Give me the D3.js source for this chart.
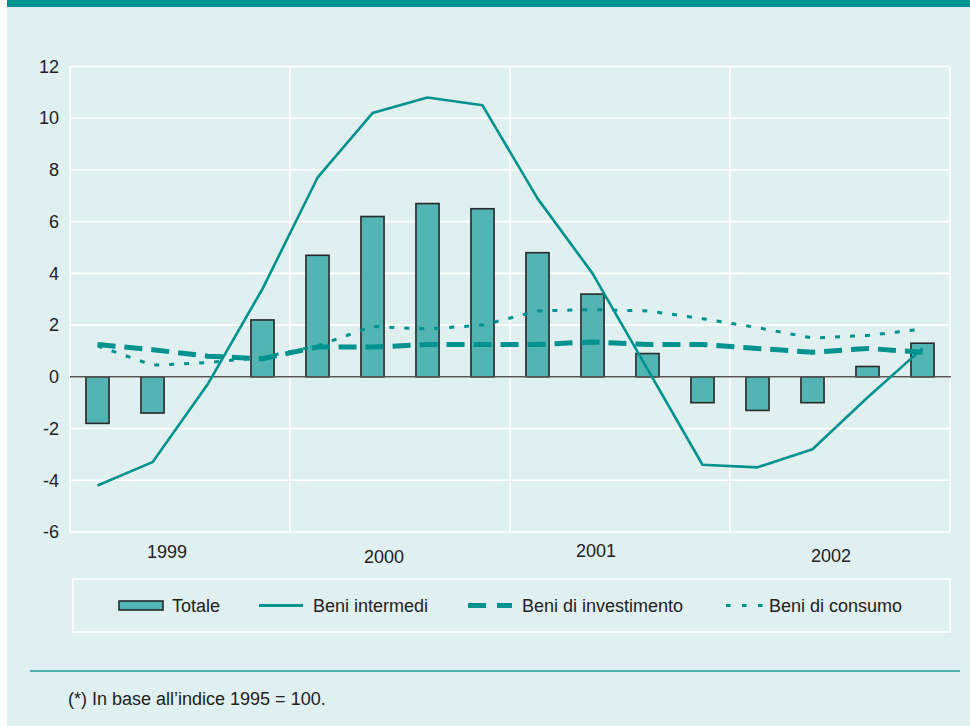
<!DOCTYPE html>
<html>
<head>
<meta charset="utf-8">
<script src="https://cdn.jsdelivr.net/npm/d3@7"></script>
<style>
  html, body { margin: 0; padding: 0; background: #ffffff; }
  svg { display: block; }
  text { font-family: "Liberation Sans", Arial, Helvetica, sans-serif; fill: #222; }
</style>
</head>
<body>
<svg id="chart" width="970" height="726"></svg>
<script>
// Quarterly data, 1999-2002 (percent changes)
const quarters = [
  "1999-I", "1999-II", "1999-III", "1999-IV",
  "2000-I", "2000-II", "2000-III", "2000-IV",
  "2001-I", "2001-II", "2001-III", "2001-IV",
  "2002-I", "2002-II", "2002-III", "2002-IV"
];
const years = ["1999", "2000", "2001", "2002"];
const totale      = [-1.8, -1.4, 0, 2.2, 4.7, 6.2, 6.7, 6.5, 4.8, 3.2, 0.9, -1.0, -1.3, -1.0, 0.4, 1.3];
const intermedi   = [-4.2, -3.3, -0.3, 3.4, 7.7, 10.2, 10.8, 10.5, 6.9, 4.0, 0.3, -3.4, -3.5, -2.8, -0.8, 1.1];
const investimento = [1.25, 1.05, 0.8, 0.7, 1.15, 1.15, 1.25, 1.25, 1.25, 1.35, 1.25, 1.25, 1.1, 0.95, 1.1, 0.95];
const consumo     = [1.2, 0.45, 0.55, 0.75, 1.2, 1.95, 1.85, 2.0, 2.55, 2.6, 2.55, 2.25, 1.9, 1.5, 1.6, 1.85];
const yTicks = [-6, -4, -2, 0, 2, 4, 6, 8, 10, 12];
const legendLabels = ["Totale", "Beni intermedi", "Beni di investimento", "Beni di consumo"];
const footnote = "(*) In base all\u2019indice 1995 = 100.";

const TEAL = "#00928e";
const BAR = "#52b4b3";
const BG = "#e0efef";

const svg = d3.select("#chart");

// panel background and top band
svg.append("rect").attr("x", 7).attr("y", 0).attr("width", 963).attr("height", 726).attr("fill", BG);
svg.append("rect").attr("x", 7).attr("y", 0).attr("width", 963).attr("height", 7).attr("fill", "#009490");

const plot = { left: 70, right: 950, top: 66.5, bottom: 532 };

const x = d3.scaleBand()
  .domain(quarters)
  .range([plot.left, plot.right])
  .paddingInner(0.58)
  .paddingOuter(0.29);
const cx = q => x(q) + x.bandwidth() / 2;

const y = d3.scaleLinear().domain([-6, 12]).range([plot.bottom, plot.top]);

// horizontal grid
svg.append("g").selectAll("line").data(yTicks).join("line")
  .attr("x1", plot.left).attr("x2", plot.right)
  .attr("y1", d => y(d)).attr("y2", d => y(d))
  .attr("stroke", "#ffffff").attr("stroke-width", 1.6);

// vertical lines: plot edges and year separators
const step = x.step();
const yearEdges = d3.range(0, years.length + 1).map(i => plot.left + i * 4 * step);
svg.append("g").selectAll("line").data(yearEdges).join("line")
  .attr("x1", d => d).attr("x2", d => d)
  .attr("y1", plot.top).attr("y2", plot.bottom)
  .attr("stroke", "#ffffff").attr("stroke-width", 1.6);

// y-axis labels (plain hyphen for negatives)
const yAxis = d3.axisLeft(y).tickValues(yTicks).tickSize(0).tickPadding(11)
  .tickFormat(d => String(d));
const gy = svg.append("g").attr("transform", `translate(${plot.left},0)`).call(yAxis);
gy.select(".domain").remove();
gy.selectAll("text").attr("font-size", 18).attr("fill", "#222")
  .style("font-family", "'Liberation Sans', Arial, sans-serif");

// year labels (staggered)
const yearNudge = [-13, -16, -24, -9];
const yearBase = [558, 563, 557, 562];
svg.append("g").selectAll("text").data(years).join("text")
  .attr("x", (d, i) => plot.left + (i * 4 + 2) * step + yearNudge[i])
  .attr("y", (d, i) => yearBase[i])
  .attr("text-anchor", "middle")
  .attr("font-size", 18)
  .text(d => d);

// bars
const barData = quarters.map((q, i) => ({ q, v: totale[i] })).filter(d => d.v !== 0);
svg.append("g").selectAll("rect").data(barData).join("rect")
  .attr("x", d => x(d.q))
  .attr("width", x.bandwidth())
  .attr("y", d => y(Math.max(0, d.v)))
  .attr("height", d => Math.abs(y(d.v) - y(0)))
  .attr("fill", BAR)
  .attr("stroke", "#2a2a2a")
  .attr("stroke-width", 1.6);

// zero line
svg.append("line")
  .attr("x1", plot.left).attr("x2", plot.right + 1)
  .attr("y1", y(0)).attr("y2", y(0))
  .attr("stroke", "#555").attr("stroke-width", 1.5);

// series lines
const line = d3.line().x((d, i) => cx(quarters[i])).y(d => y(d));

svg.append("path").datum(consumo)
  .attr("d", line).attr("fill", "none")
  .attr("stroke", TEAL).attr("stroke-width", 3)
  .attr("stroke-dasharray", "5,10");

svg.append("path").datum(investimento)
  .attr("d", line).attr("fill", "none")
  .attr("stroke", TEAL).attr("stroke-width", 5)
  .attr("stroke-dasharray", "18,9");

svg.append("path").datum(intermedi)
  .attr("d", line).attr("fill", "none")
  .attr("stroke", TEAL).attr("stroke-width", 2.6)
  .attr("stroke-linejoin", "round");

// legend box
svg.append("rect")
  .attr("x", 73).attr("y", 579).attr("width", 877).attr("height", 53)
  .attr("fill", "none").attr("stroke", "#ffffff").attr("stroke-width", 1.6);

const leg = svg.append("g");
const legY = 605.5;
// Totale
leg.append("rect").attr("x", 119).attr("y", 601).attr("width", 44).attr("height", 9)
  .attr("fill", BAR).attr("stroke", "#2a2a2a").attr("stroke-width", 1.6);
// Beni intermedi
leg.append("line").attr("x1", 259).attr("x2", 303).attr("y1", legY).attr("y2", legY)
  .attr("stroke", TEAL).attr("stroke-width", 3);
// Beni di investimento
leg.append("line").attr("x1", 468).attr("x2", 512).attr("y1", legY).attr("y2", legY)
  .attr("stroke", TEAL).attr("stroke-width", 5).attr("stroke-dasharray", "18,11");
// Beni di consumo
leg.append("line").attr("x1", 726).attr("x2", 763).attr("y1", legY).attr("y2", legY)
  .attr("stroke", TEAL).attr("stroke-width", 3).attr("stroke-dasharray", "4.5,11.5");

const legTextX = [172, 313, 522, 769];
leg.selectAll("text").data(legendLabels).join("text")
  .attr("x", (d, i) => legTextX[i]).attr("y", 611.5)
  .attr("font-size", 18)
  .text(d => d);

// footnote separator and text
svg.append("line").attr("x1", 30).attr("x2", 960).attr("y1", 671).attr("y2", 671)
  .attr("stroke", "#4db1ad").attr("stroke-width", 2);
svg.append("text").attr("x", 68).attr("y", 705).attr("font-size", 18).text(footnote);
</script>
</body>
</html>
